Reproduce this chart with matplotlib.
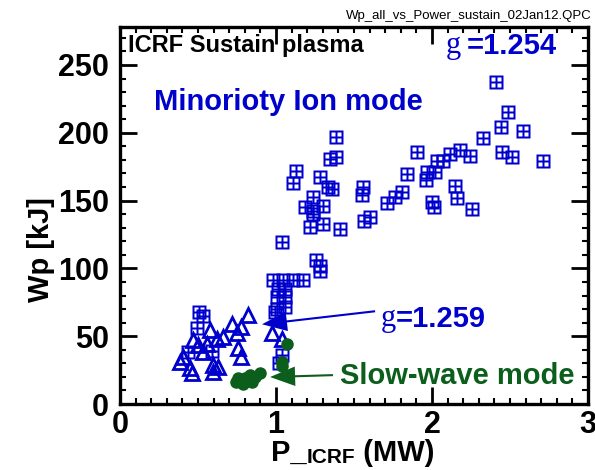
import matplotlib
matplotlib.use('Agg')
import matplotlib.pyplot as plt
from matplotlib.path import Path
from matplotlib.ticker import MultipleLocator

plt.rcParams['font.family'] = ['Liberation Sans', 'DejaVu Sans']

# minority ion mode (square markers)
minority_p = [2.410, 2.489, 2.442, 2.581, 2.329, 1.906, 2.179, 2.115, 2.244, 2.449,
              2.511, 2.710, 2.072, 2.030, 1.838, 1.966, 2.019, 1.962, 2.147, 1.806,
              1.763, 1.710, 2.158, 1.998, 2.013, 2.258, 1.383, 1.346, 1.383, 1.282,
              1.335, 1.357, 1.560, 1.549, 1.239, 1.186, 1.239, 1.303, 1.603, 1.564,
              1.218, 1.303, 1.410, 1.128, 1.107, 1.239, 1.037, 1.256, 1.282, 1.282,
              0.983, 1.047, 1.111, 1.175, 1.015, 1.055, 1.004, 1.058, 1.004, 1.058,
              0.995, 0.506, 0.534, 0.492, 0.438, 0.588, 1.040, 1.021]
minority_wp = [237.7, 215.4, 204.4, 201.0, 196.5, 185.5, 187.3, 184.3, 182.6, 185.5,
               181.8, 178.9, 178.9, 178.9, 169.3, 170.8, 171.3, 165.4, 161.0, 156.4,
               152.9, 148.0, 152.0, 148.8, 145.1, 143.9, 197.1, 180.7, 181.8, 167.1,
               160.3, 158.6, 159.8, 154.4, 152.4, 145.1, 142.6, 146.3, 137.7, 134.8,
               130.4, 132.9, 129.2, 171.5, 163.0, 140.2, 119.3, 105.9, 101.5, 98.0,
               91.2, 91.2, 91.2, 91.2, 85.0, 85.0, 78.9, 78.9, 70.4, 71.5,
               68.0, 67.9, 64.7, 56.4, 38.5, 39.2, 36.0, 30.4]

# triangles
tri_p = [0.822, 0.716, 0.774, 0.577, 0.662, 0.620, 0.748, 0.470, 0.502, 0.556,
         0.534, 0.406, 0.385, 0.758, 0.774, 0.449, 0.460, 0.598, 0.630, 0.594,
         0.972, 1.037]
tri_wp = [65.4, 59.3, 56.8, 54.4, 49.5, 48.3, 52.0, 47.1, 43.4, 44.6,
          38.5, 34.8, 31.1, 41.0, 34.8, 26.3, 22.6, 28.7, 27.4, 23.8,
          52.0, 48.3]

# slow-wave mode
slow_p = [0.756, 0.801, 0.833, 0.865, 0.897, 0.788, 0.846, 0.744, 1.069, 1.040, 1.037]
slow_wp = [19.1, 19.1, 21.3, 19.9, 22.8, 14.7, 16.2, 16.2, 44.6, 31.1, 28.3]

BLUE = '#0000cc'
GREEN = '#0b5e1c'


def window_marker():
    verts, codes = [], []

    def sq(x0, y0, x1, y1, ccw=True):
        pts = [(x0, y0), (x1, y0), (x1, y1), (x0, y1)]
        if not ccw:
            pts = pts[::-1]
        verts.extend(pts + [pts[0]])
        codes.extend([Path.MOVETO, Path.LINETO, Path.LINETO, Path.LINETO, Path.CLOSEPOLY])

    sq(-1, -1, 1, 1)
    a, b = 0.2, 0.66
    for x0, x1 in ((-b, -a), (a, b)):
        for y0, y1 in ((-b, -a), (a, b)):
            sq(x0, y0, x1, y1, ccw=False)
    return Path(verts, codes)


fig = plt.figure(figsize=(5.95, 4.7), dpi=100)
ax = fig.add_axes([0.2017, 0.1404, 0.7866, 0.8022])

ax.plot(tri_p, tri_wp, '^', ms=9.5, mfc='none', mec=BLUE, mew=2, ls='none')
ax.plot(minority_p, minority_wp, marker=window_marker(), ms=10.5, color=BLUE,
        mec='none', ls='none')
ax.plot(slow_p, slow_wp, 'o', ms=8, color=GREEN, mec=GREEN, ls='none')

ax.set_xlim(0, 3)
ax.set_ylim(0, 278)
ax.xaxis.set_major_locator(MultipleLocator(1))
ax.xaxis.set_minor_locator(MultipleLocator(0.1))
ax.yaxis.set_major_locator(MultipleLocator(50))
ax.yaxis.set_minor_locator(MultipleLocator(10))
ax.tick_params(which='both', direction='in', top=True, right=True, width=2)
ax.tick_params(which='major', length=12)
ax.tick_params(which='minor', length=4.5, width=1.5)
ax.tick_params(axis='x', which='major', pad=4, labelsize=22)
ax.tick_params(axis='y', which='major', pad=8, labelsize=22)
for lab in ax.get_xticklabels() + ax.get_yticklabels():
    lab.set_fontweight('bold')
for s in ax.spines.values():
    s.set_linewidth(2.4)

ax.set_ylabel('Wp [kJ]', fontsize=21, fontweight='bold', va='center')
ax.yaxis.set_label_coords(-0.168, 0.41)

# x label with smaller ICRF
t1 = fig.text(0.455, 0.02, 'P_', fontsize=21, fontweight='bold', ha='left', va='baseline')
t2 = ax.annotate('ICRF', xy=(1, 0), xycoords=t1, fontsize=15, fontweight='bold',
                 va='bottom', ha='left', annotation_clip=False)
ax.annotate(' (MW)', xy=(1, 0), xycoords=t2, fontsize=21, fontweight='bold',
            va='bottom', ha='left', annotation_clip=False)

fig.text(0.995, 0.978, 'Wp_all_vs_Power_sustain_02Jan12.QPC', fontsize=9.5,
         ha='right', va='top')

ax.text(0.05, 264, 'ICRF Sustain plasma', fontsize=17, fontweight='bold', va='center')
ax.text(0.22, 223, 'Minorioty Ion mode', fontsize=21, fontweight='bold',
        color=BLUE, va='center')
ax.text(2.09, 264, 'g', fontsize=22, family='Liberation Serif', color=BLUE, va='center')
ax.text(2.22, 264, '=1.254', fontsize=21, fontweight='bold', color=BLUE, va='center')
ax.text(1.67, 63, 'g', fontsize=22, family='Liberation Serif', color=BLUE, va='center')
ax.text(1.77, 63, '=1.259', fontsize=21, fontweight='bold', color=BLUE, va='center')
ax.text(1.41, 21, 'Slow-wave mode', fontsize=21, fontweight='bold', color=GREEN,
        va='center')

ax.annotate('', xy=(0.91, 58.8), xytext=(1.635, 68.4),
            arrowprops=dict(width=1.5, headwidth=14, headlength=18, color=BLUE, lw=0))
ax.annotate('', xy=(0.962, 19.9), xytext=(1.365, 21.3),
            arrowprops=dict(width=1.5, headwidth=14, headlength=18, color=GREEN, lw=0))

fig.savefig('out.png', dpi=100)
